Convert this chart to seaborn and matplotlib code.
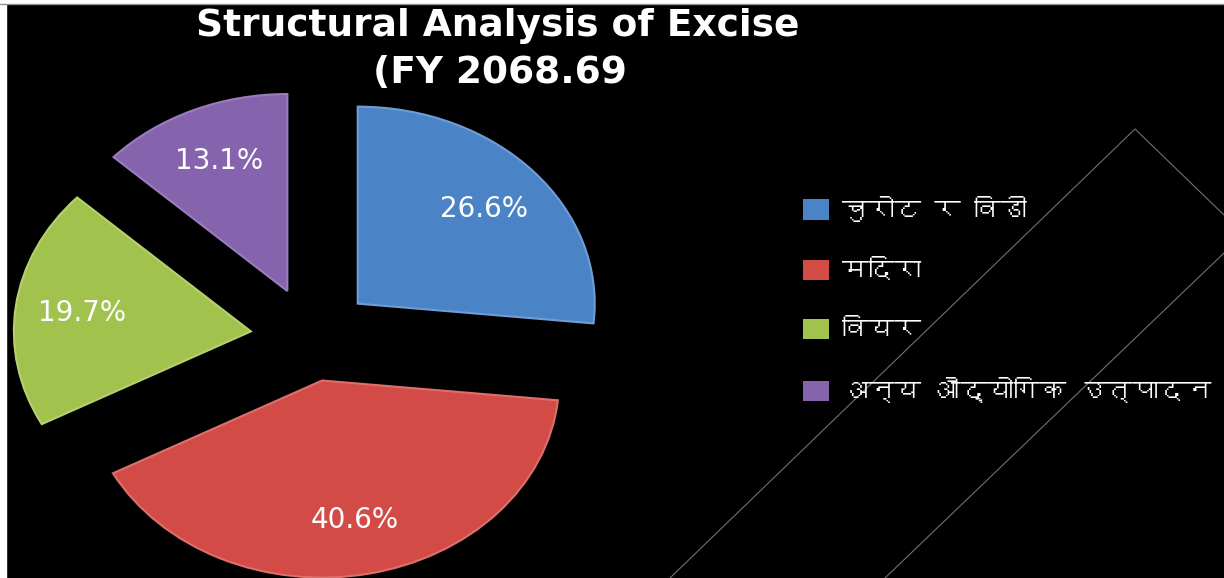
import matplotlib
matplotlib.use("Agg")
import matplotlib.pyplot as plt
from matplotlib import font_manager
from matplotlib.ft2font import FT2Font
from matplotlib.lines import Line2D
from matplotlib.patches import Rectangle
import seaborn as sns

# ---- data ----
categories = ["चुरोट र विडी", "मदिरा", "वियर", "अन्य औद्योगिक उत्पादन"]
shares = [26.6, 40.6, 19.7, 13.1]
title_line1 = "Structural Analysis of Excise"
title_line2 = "(FY 2068.69"

colors = ["#4a84c6", "#d24b47", "#a2c24e", "#8563ad"]
edge_colors = ["#6f9dd4", "#de6f6b", "#b6d06f", "#9a7dbf"]
explode = [0.26, 0.22, 0.26, 0.26]

sns.set_theme(style="dark", rc={"figure.facecolor": "black", "axes.facecolor": "black"})
palette = sns.color_palette(colors)

# find a font with Devanagari glyphs, if any
deva_font = None
for fe in font_manager.fontManager.ttflist:
    try:
        cmap = FT2Font(fe.fname).get_charmap()
        if 0x0915 in cmap and 0x093F in cmap:
            deva_font = fe.name
            break
    except Exception:
        continue
latin = "DejaVu Sans"
legend_family = [deva_font, "DejaVu Sans"] if deva_font else ["DejaVu Sans"]
plt.rcParams["font.family"] = [latin]

W, H = 1224, 578
fig = plt.figure(figsize=(W / 100, H / 100), dpi=100, facecolor="black")
ax = fig.add_axes([0, 0, 1, 1])
ax.set_facecolor("black")

wedges, texts, autotexts = ax.pie(
    shares, colors=palette, startangle=90, counterclock=False,
    explode=explode, autopct="%.1f%%", pctdistance=0.72,
    textprops=dict(color="white", fontsize=20, family=latin),
    wedgeprops=dict(linewidth=1.5),
)
for w, ec in zip(wedges, edge_colors):
    w.set_edgecolor(ec)

# pixel-based placement of the (tilted, elliptical) pie
cx, cy, rx, ry = 312, 338, 237, 197
ax.set_aspect("auto")
ax.set_xlim((0 - cx) / rx, (W - cx) / rx)
ax.set_ylim(-(H - cy) / ry, cy / ry)
ax.axis("off")

# title
fig.text(498 / W, 1 - 36 / H, title_line1, color="white", fontsize=27,
         fontweight="bold", ha="center", va="baseline")
fig.text(500 / W, 1 - 83 / H, title_line2, color="white", fontsize=27,
         fontweight="bold", ha="center", va="baseline")

# legend
leg = fig.legend(wedges, categories, loc="upper left",
                 bbox_to_anchor=(779 / W, 1 - 172 / H), frameon=False,
                 handlelength=1.0, handleheight=0.8, handletextpad=0.5,
                 labelspacing=1.38, prop=dict(family=legend_family, size=19))
for t in leg.get_texts():
    t.set_color("white")
for h in leg.legend_handles:
    h.set_linewidth(0)

# decorative thin lines
def px(x, y):
    return x / W, 1 - y / H

for pts in ([(670, 578), (1135, 129), (1224, 215)], [(885, 578), (1224, 253)]):
    xs, ys = zip(*[px(*p) for p in pts])
    fig.add_artist(Line2D(xs, ys, color="#707070", lw=0.8, transform=fig.transFigure))

# frame remnants
fig.add_artist(Rectangle((0, 0), 6 / W, 1, color="white", transform=fig.transFigure, zorder=10))
fig.add_artist(Rectangle((0, 1 - 3 / H), 1, 3 / H, color="white", transform=fig.transFigure, zorder=10))
fig.add_artist(Line2D([0, 1], [1 - 3.5 / H] * 2, color="#909090", lw=1, transform=fig.transFigure, zorder=10))

fig.savefig("out.png", dpi=100, facecolor="black")
